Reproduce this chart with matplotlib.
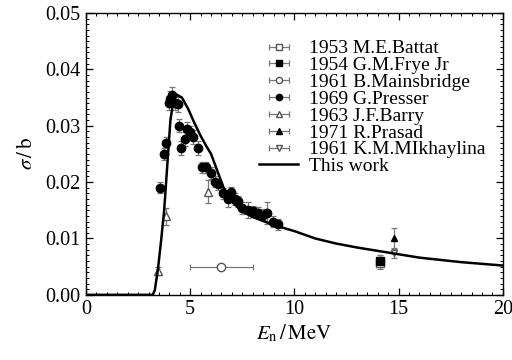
import numpy as np
import matplotlib
matplotlib.use("Agg")
import matplotlib.pyplot as plt
from matplotlib.ticker import MultipleLocator, FormatStrFormatter

plt.rcParams['font.family'] = ['Liberation Serif', 'DejaVu Serif']
plt.rcParams['mathtext.fontset'] = 'stix'

# Data
battat_E = [14.1]; battat_s = [0.0056]; battat_err = [0.0010]
frye_E = [14.1]; frye_s = [0.0060]; frye_err = [0.0010]
mains_E = [6.5]; mains_s = [0.0050]; mains_xerr = [1.5]
presser_E = [3.55, 3.74, 3.86, 3.97, 4.05, 4.14, 4.26, 4.42, 4.48, 4.58, 4.74, 4.83, 4.98,
             5.13, 5.37, 5.58, 5.75, 5.98, 6.17, 6.35, 6.57, 6.81, 6.97, 7.17, 7.30, 7.50,
             7.75, 7.99, 8.23, 8.47, 8.70, 8.95, 9.20]
presser_s = [0.0190, 0.0250, 0.0270, 0.0340, 0.0348, 0.0355, 0.0340, 0.0338, 0.0300, 0.0260,
             0.0276, 0.0294, 0.0288, 0.0280, 0.0260, 0.0226, 0.0226, 0.0216, 0.0201, 0.0196,
             0.0180, 0.0170, 0.0182, 0.0170, 0.0166, 0.0154, 0.0150, 0.0148, 0.0146, 0.0142,
             0.0145, 0.0130, 0.0125]
presser_err = [0.0010, 0.0010, 0.0010, 0.0013, 0.0013, 0.0013, 0.0013, 0.0013, 0.0012, 0.0012,
               0.0012, 0.0012, 0.0012, 0.0012, 0.0012, 0.0010, 0.0010, 0.0010, 0.0010, 0.0010,
               0.0010, 0.0014, 0.0010, 0.0010, 0.0010, 0.0010, 0.0014, 0.0010, 0.0010, 0.0010,
               0.0020, 0.0010, 0.0010]
barry_E = [3.46, 3.86, 5.87]; barry_s = [0.0043, 0.0139, 0.0183]; barry_err = [0.0007, 0.0015, 0.0020]
prasad_E = [14.8]; prasad_s = [0.0101]; prasad_err = [0.0018]
mikh_E = [14.8]; mikh_s = [0.0074]; mikh_err = [0.0008]

model_E = [0, 3.2, 3.3, 3.45, 3.6, 3.75, 3.9, 4.05, 4.2, 4.35, 4.6, 4.9, 5.2, 5.5, 5.8, 6.0,
           6.3, 6.6, 7.0, 7.5, 8.0, 9.0, 10.0, 11.0, 12.0, 13.0, 14.0, 15.0, 16.0, 17.0, 18.0,
           19.0, 20.0]
model_s = [0, 0, 0.0008, 0.0045, 0.0095, 0.0150, 0.0230, 0.0310, 0.0345, 0.0355, 0.0350, 0.0330,
           0.0305, 0.0282, 0.0262, 0.0250, 0.0220, 0.0190, 0.0165, 0.0148, 0.0138, 0.0124,
           0.0113, 0.0100, 0.0091, 0.0084, 0.0078, 0.0072, 0.0066, 0.0062, 0.0058, 0.0055, 0.0052]

labels = ["1953 M.E.Battat", "1954 G.M.Frye Jr", "1961 B.Mainsbridge", "1969 G.Presser",
          "1963 J.F.Barry", "1971 R.Prasad", "1961 K.M.MIkhaylina", "This work"]

fig = plt.figure(figsize=(5.12, 3.6), dpi=100)
ax = fig.add_axes([0.168, 0.181, 0.814, 0.783])

ecol = '#777777'
common = dict(ls='none', ecolor=ecol, elinewidth=0.9, capsize=2.5, capthick=0.9)

specs = [
    (battat_E, battat_s, None, battat_err, dict(marker='s', mfc='white', mec='#555555', ms=5.5)),
    (frye_E, frye_s, None, frye_err, dict(marker='s', mfc='black', mec='black', ms=5.5)),
    (mains_E, mains_s, mains_xerr, None, dict(marker='o', mfc='white', mec='#555555', ms=6)),
    (presser_E, presser_s, None, presser_err, dict(marker='o', mfc='black', mec='black', ms=6)),
    (barry_E, barry_s, None, barry_err, dict(marker='^', mfc='white', mec='#555555', ms=5.5)),
    (prasad_E, prasad_s, None, prasad_err, dict(marker='^', mfc='black', mec='black', ms=5)),
    (mikh_E, mikh_s, None, mikh_err, dict(marker='v', mfc='white', mec='#555555', ms=5)),
]

leg_ms = [4.5, 4.5, 4.5, 4.5, 4.0, 4.0, 4.0]
handles = []
for (E, s, xe, ye, mk), lab, lms in zip(specs, labels[:-1], leg_ms):
    ax.errorbar(E, s, xerr=xe, yerr=ye, zorder=3, **common, **mk)
    mk2 = dict(mk); mk2['ms'] = lms
    h = ax.errorbar([np.nan], [np.nan], xerr=[1.0], label=lab, **common, **mk2)
    handles.append(h)

line, = ax.plot(model_E, model_s, color='black', lw=1.8, zorder=4, label=labels[-1])
handles.append(line)

ax.set_xlim(0, 20)
ax.set_ylim(0, 0.05)
ax.xaxis.set_major_locator(MultipleLocator(5))
ax.xaxis.set_minor_locator(MultipleLocator(0.5))
ax.yaxis.set_major_locator(MultipleLocator(0.01))
ax.yaxis.set_minor_locator(MultipleLocator(0.001))
ax.yaxis.set_major_formatter(FormatStrFormatter('%.2f'))
ax.tick_params(which='both', direction='in', top=True, right=True, labelsize=14.5, pad=4)
ax.tick_params(which='major', length=5, width=0.9)
ax.tick_params(which='minor', length=2.5, width=0.7)
for sp in ax.spines.values():
    sp.set_linewidth(1.0)

ax.set_xlabel(r'$E_{\mathrm{n}}\,/\,\mathrm{MeV}$', fontsize=15, labelpad=2)
ax.set_ylabel(r'$\sigma\,/\,\mathrm{b}$', fontsize=15, labelpad=6)

leg = ax.legend(handles=handles, labels=labels, loc='upper left', frameon=False, fontsize=14,
                handlelength=2.0, labelspacing=-0.04, handletextpad=0.55,
                bbox_to_anchor=(0.416, 0.905), borderaxespad=0.0, borderpad=0.0)

fig.savefig('out.png', dpi=100)
